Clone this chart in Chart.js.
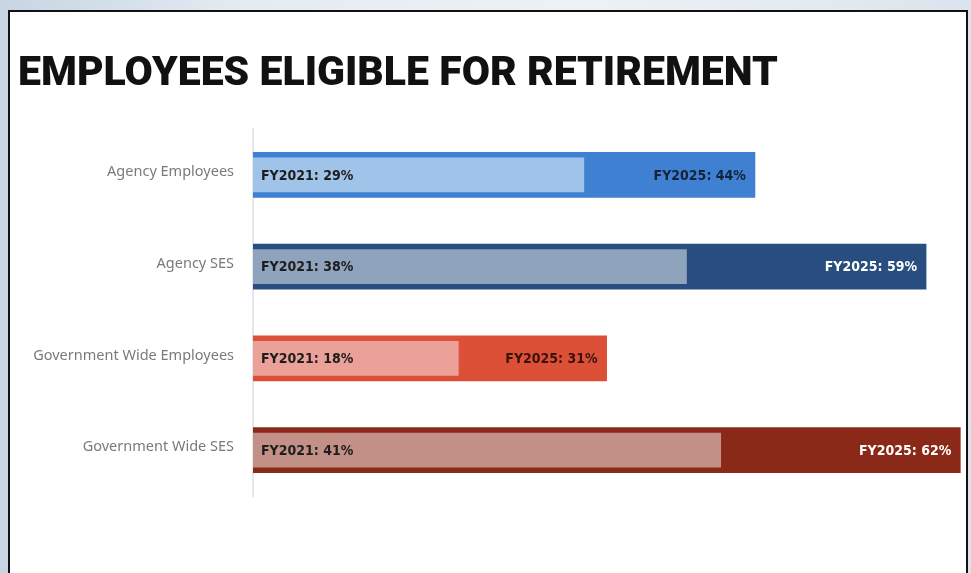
<!DOCTYPE html>
<html>
<head>
<meta charset="utf-8">
<script src="https://cdn.jsdelivr.net/npm/chart.js@4.4.1/dist/chart.umd.min.js"></script>
<style>
  html, body { margin: 0; padding: 0; }
  body {
    width: 971px; height: 573px; overflow: hidden; position: relative;
    background: linear-gradient(90deg, #c7d5e3 0%, #e4ebf2 25%, #eef2f6 60%, #dbe4ed 100%);
  }
  #frame { position: absolute; left: 8px; top: 10px; width: 956px; height: 600px; background: #fff; border: 2px solid #111; }
  #wrap { position: absolute; left: 10px; top: 12px; width: 956px; height: 561px; }
</style>
</head>
<body>
<div id="frame"></div>
<div id="wrap"><canvas id="retireChart"></canvas></div>
<script>
// share of staff eligible to retire, by group
const categories = ['Agency Employees', 'Agency SES', 'Government Wide Employees', 'Government Wide SES'];
const fy2021 = [29, 38, 18, 41];
const fy2025 = [44, 59, 31, 62];
const years = ['FY2021', 'FY2025'];

// light inner bar (2021) sits on top of the darker outer bar (2025)
const innerColors = ['#a0c3ea', '#8fa3bc', '#eba198', '#c39088'];
const outerColors = ['#3f80d2', '#274e7f', '#dc5038', '#8a2918'];
const outerTextColors = ['#14233a', '#ffffff', '#3a1209', '#ffffff'];

const barLabels = {
  id: 'barLabels',
  afterDatasetsDraw(chart) {
    const ctx = chart.ctx;
    ctx.save();
    ctx.font = 'bold 14px "DejaVu Sans Condensed", "DejaVu Sans", sans-serif';
    ctx.textBaseline = 'middle';
    chart.data.datasets.forEach((ds, di) => {
      chart.getDatasetMeta(di).data.forEach((bar, i) => {
        const text = ds.label + ': ' + ds.data[i] + '%';
        if (di === 0) {
          ctx.textAlign = 'left';
          ctx.fillStyle = '#1d1d1d';
          ctx.fillText(text, bar.base + 8, bar.y + 1);
        } else {
          ctx.textAlign = 'right';
          ctx.fillStyle = outerTextColors[i];
          ctx.fillText(text, bar.x - 9, bar.y + 1);
        }
      });
    });
    ctx.restore();
  }
};

const ctx = document.getElementById('retireChart').getContext('2d');
const chart = new Chart(ctx, {
  type: 'bar',
  data: {
    labels: categories,
    datasets: [
      { label: years[0], data: fy2021, backgroundColor: innerColors, barThickness: 34, grouped: false, order: 0 },
      { label: years[1], data: fy2025, backgroundColor: outerColors, barThickness: 45, grouped: false, order: 1 }
    ]
  },
  options: {
    indexAxis: 'y',
    responsive: true,
    maintainAspectRatio: false,
    animation: false,
    layout: { padding: { top: 0, bottom: 77, left: 8, right: 0 } },
    plugins: {
      legend: { display: false },
      tooltip: { enabled: false },
      title: {
        display: true,
        text: 'EMPLOYEES ELIGIBLE FOR RETIREMENT',
        align: 'start',
        color: '#111',
        font: { family: 'Roboto, Inter, "DejaVu Sans", sans-serif', size: 41, weight: 900, lineHeight: 1 },
        padding: { top: 42, bottom: 34 }
      }
    },
    scales: {
      x: { display: false, min: 0, max: 62.5 },
      y: {
        grid: { display: false },
        border: { color: '#e4e7eb', width: 2 },
        ticks: { color: '#7a7a7a', font: { family: '"Noto Sans", sans-serif', size: 14.5 }, padding: 11, labelOffset: -3 },
        afterFit(scale) { scale.width = 235; }
      }
    }
  },
  plugins: [barLabels]
});
</script>
</body>
</html>
